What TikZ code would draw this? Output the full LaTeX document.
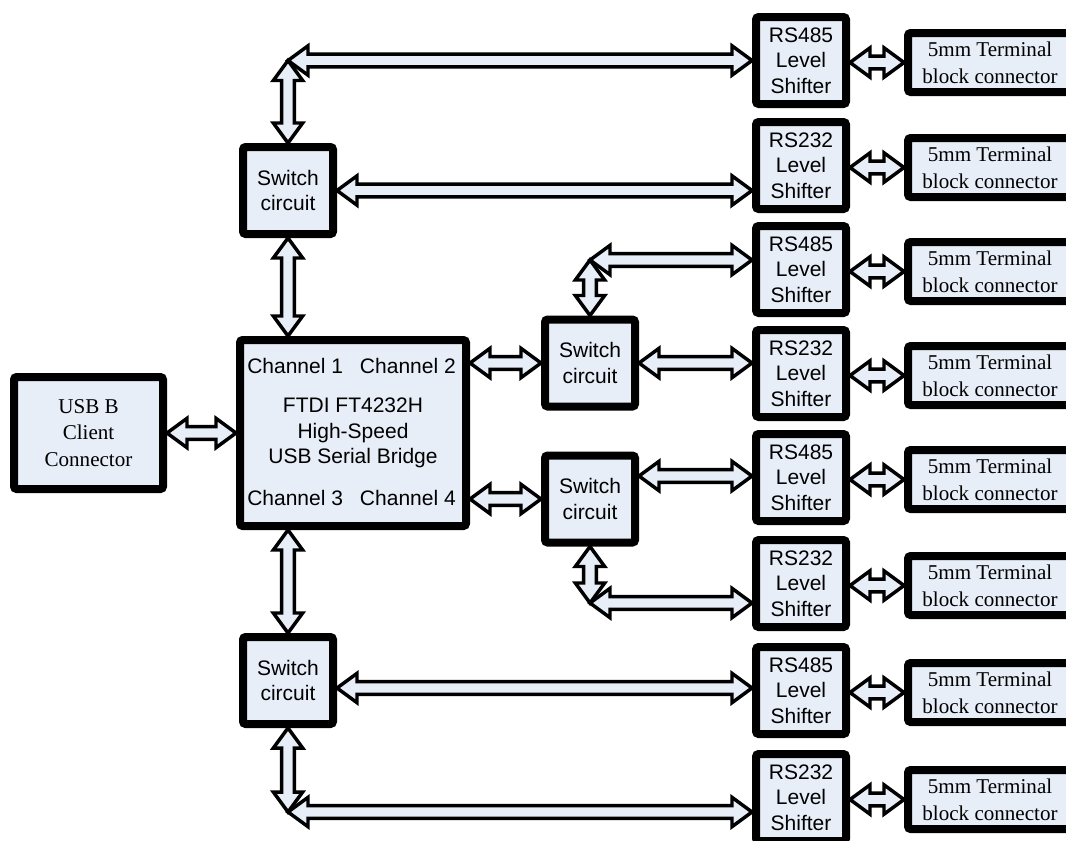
\documentclass[tikz,border=0pt]{standalone}
\usepackage{fontspec}
\setmainfont{Liberation Serif}
\setsansfont{Liberation Sans}
\usetikzlibrary{calc}
\definecolor{boxfill}{RGB}{231,238,248}
\newcommand\ahl{15pt}
\newcommand\ahw{11pt}
\newcommand\abw{4.8pt}
\newcommand\blkarrow[2]{\draw[barrow] (#1) -- ($(#1)!\ahl!(#2)!\ahw!90:(#2)$) -- ($(#1)!\ahl!(#2)!\abw!90:(#2)$) -- ($(#2)!\ahl!(#1)!\abw!-90:(#1)$) -- ($(#2)!\ahl!(#1)!\ahw!-90:(#1)$) -- (#2) -- ($(#2)!\ahl!(#1)!\ahw!90:(#1)$) -- ($(#2)!\ahl!(#1)!\abw!90:(#1)$) -- ($(#1)!\ahl!(#2)!\abw!-90:(#2)$) -- ($(#1)!\ahl!(#2)!\ahw!-90:(#2)$) -- cycle;}
\tikzset{
  box/.style={draw=black, fill=boxfill, line width=6pt, rounded corners=2pt, inner sep=0pt, align=center, text=black},
  sansbox/.style={box, font=\sffamily\fontsize{15.75}{19}\selectfont},
  serifbox/.style={box, font=\rmfamily\fontsize{15.8}{20}\selectfont},
  swbox/.style={sansbox, minimum width=67.5pt, minimum height=65.25pt},
  lsbox/.style={sansbox, minimum width=67.5pt, minimum height=65.25pt},
  tbbox/.style={serifbox, minimum width=123pt, minimum height=44.25pt},
  chlabel/.style={font=\sffamily\fontsize{15.75}{19}\selectfont, inner sep=0pt, text=black},
  barrow/.style={draw=black, fill=boxfill, line width=2.6pt, line join=miter},
}
\begin{document}
\begin{tikzpicture}[x=0.75pt, y=-0.75pt]
\useasboundingbox (0,0) rectangle (1066,840);
% main nodes
\node[serifbox, minimum width=111.75pt, minimum height=84pt] (usb) at (88.5,433) {USB B\\Client\\Connector};
\node[sansbox, minimum width=169.5pt, minimum height=139.5pt] (ftdi) at (353,433) {FTDI FT4232H\\High-Speed\\USB Serial Bridge};
\node[chlabel, anchor=base west] (ch1) at (247,373) {Channel 1};
\node[chlabel, anchor=base east] (ch2) at (456,373) {Channel 2};
\node[chlabel, anchor=base west] (ch3) at (247,505) {Channel 3};
\node[chlabel, anchor=base east] (ch4) at (456,505) {Channel 4};
% switches
\node[swbox] (s1) at (288,190.5) {Switch\\circuit};
\node[swbox] (s2) at (590,363) {Switch\\circuit};
\node[swbox] (s3) at (590,499) {Switch\\circuit};
\node[swbox] (s4) at (288,680.5) {Switch\\circuit};
% level shifters
\node[lsbox] (sh1) at (801,60.5) {RS485\\Level\\Shifter};
\node[lsbox] (sh2) at (801,165.5) {RS232\\Level\\Shifter};
\node[lsbox] (sh3) at (801,269.5) {RS485\\Level\\Shifter};
\node[lsbox] (sh4) at (801,373.5) {RS232\\Level\\Shifter};
\node[lsbox] (sh5) at (801,477.5) {RS485\\Level\\Shifter};
\node[lsbox] (sh6) at (801,583.5) {RS232\\Level\\Shifter};
\node[lsbox] (sh7) at (801,690.5) {RS485\\Level\\Shifter};
\node[lsbox] (sh8) at (801,797.5) {RS232\\Level\\Shifter};
% terminal blocks
\foreach \i/\y in {1/62.5,2/167.5,3/271.5,4/375.5,5/479.5,6/585.5,7/692.5,8/799.5}{
  \node[tbbox] (tb\i) at (990,\y) {5mm Terminal\\block connector};
}
% junction and end coordinates
\coordinate (j1) at (s1.north |- sh1.west);
\coordinate (e1) at (sh1.west |- j1);
\coordinate (e2) at (sh2.west |- s1.east);
\coordinate (f1) at (s1.south |- ftdi.north);
\coordinate (f2) at (ftdi.east |- s2.west);
\coordinate (f3) at (ftdi.east |- s3.west);
\coordinate (f4) at (s4.north |- ftdi.south);
\coordinate (j2) at (s2.north |- 0,260);
\coordinate (e3) at (sh3.west |- j2);
\coordinate (e4) at (sh4.west |- s2.east);
\coordinate (g5) at (s3.east |- 0,476);
\coordinate (e5) at (sh5.west |- g5);
\coordinate (j3) at (s3.south |- 0,603);
\coordinate (e6) at (sh6.west |- j3);
\coordinate (g7) at (s4.east |- 0,688);
\coordinate (e7) at (sh7.west |- g7);
\coordinate (j4) at (s4.south |- 0,812);
\coordinate (e8) at (sh8.west |- j4);
% connectors
\blkarrow{usb.east}{ftdi.west}
\blkarrow{s1.north}{j1}
\blkarrow{j1}{e1}
\blkarrow{s1.east}{e2}
\blkarrow{s1.south}{f1}
\blkarrow{f2}{s2.west}
\blkarrow{s2.north}{j2}
\blkarrow{j2}{e3}
\blkarrow{s2.east}{e4}
\blkarrow{f3}{s3.west}
\blkarrow{g5}{e5}
\blkarrow{s3.south}{j3}
\blkarrow{j3}{e6}
\blkarrow{f4}{s4.north}
\blkarrow{g7}{e7}
\blkarrow{s4.south}{j4}
\blkarrow{j4}{e8}
\foreach \i in {1,...,8}{
  \coordinate (t\i) at (sh\i.east |- tb\i.west);
  \blkarrow{t\i}{tb\i.west}
}
\end{tikzpicture}
\end{document}
